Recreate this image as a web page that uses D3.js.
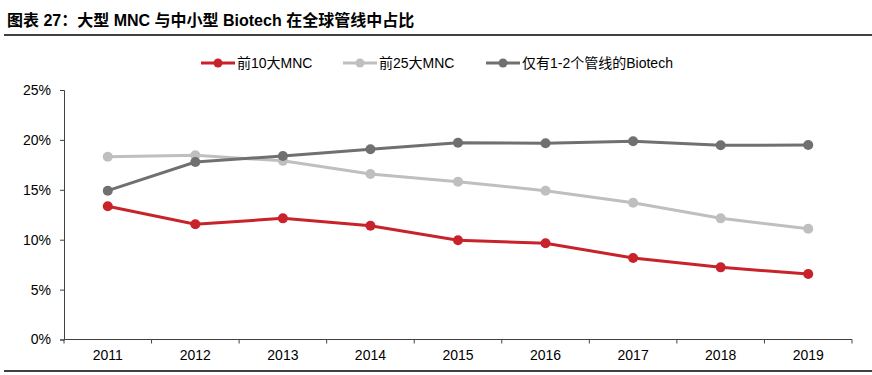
<!DOCTYPE html>
<html>
<head>
<meta charset="utf-8">
<script src="https://cdn.jsdelivr.net/npm/d3@7"></script>
<style>
  body { margin: 0; background: #fff; }
  svg { font-family: Arial, "Liberation Sans", "Noto Sans CJK SC", sans-serif; }
  .axis path, .axis line { stroke: #404040; }
  .axis text { font-size: 14px; fill: #000; }
</style>
</head>
<body>
<script>
// chart data
const years = ["2011", "2012", "2013", "2014", "2015", "2016", "2017", "2018", "2019"];
const top10 = [13.35, 11.54, 12.14, 11.4, 9.94, 9.64, 8.17, 7.23, 6.56];
const top25 = [18.32, 18.46, 17.9, 16.58, 15.81, 14.91, 13.71, 12.14, 11.1];
const biotech = [14.91, 17.79, 18.39, 19.06, 19.72, 19.66, 19.86, 19.46, 19.49];
const seriesNames = ["前10大MNC", "前25大MNC", "仅有1-2个管线的Biotech"];
const yTicks = [0, 5, 10, 15, 20, 25];

const width = 872, height = 375;
const colors = ["#c8232a", "#bfbfbf", "#707070"];
const series = [top10, top25, biotech];

const svg = d3.select("body").append("svg")
  .attr("width", width)
  .attr("height", height);

// title + rules
svg.append("text")
  .attr("x", 7).attr("y", 26)
  .attr("font-size", "16px").attr("font-weight", "bold")
  .text("图表 27：大型 MNC 与中小型 Biotech 在全球管线中占比");
svg.append("line").attr("x1", 4).attr("x2", width).attr("y1", 35).attr("y2", 35)
  .attr("stroke", "#000").attr("stroke-width", 1.5);
svg.append("line").attr("x1", 4).attr("x2", width).attr("y1", 371).attr("y2", 371)
  .attr("stroke", "#000").attr("stroke-width", 1.5);

const x = d3.scaleBand().domain(years).range([64, 852]);
const y = d3.scaleLinear().domain([0, 25]).range([339.5, 90]);

svg.append("g").attr("class", "axis")
  .attr("transform", "translate(64,0)")
  .call(d3.axisLeft(y).tickValues(yTicks).tickSize(4).tickFormat(d => d + "%"))
  .call(g => g.selectAll("text").attr("dx", "-6"));

const xAxis = svg.append("g").attr("class", "axis")
  .attr("transform", "translate(0,339.5)")
  .call(d3.axisBottom(x).tickSize(0).tickPadding(11))
  .call(g => g.select(".domain").attr("d", "M64,0H852"));
// boundary ticks between categories
xAxis.selectAll(".sep")
  .data(years.map(v => x(v)).concat([x.range()[1]]))
  .join("line")
  .attr("x1", d => d).attr("x2", d => d)
  .attr("y1", 0).attr("y2", 4)
  .attr("stroke", "#404040");

const line = d3.line()
  .x((d, i) => x(years[i]) + x.bandwidth() / 2)
  .y(d => y(d));

series.forEach((s, k) => {
  svg.append("path")
    .attr("d", line(s))
    .attr("fill", "none")
    .attr("stroke", colors[k])
    .attr("stroke-width", 3);
  svg.selectAll(".pt" + k)
    .data(s)
    .join("circle")
    .attr("cx", (d, i) => x(years[i]) + x.bandwidth() / 2)
    .attr("cy", d => y(d))
    .attr("r", 5)
    .attr("fill", colors[k]);
});

// legend
const legX = [201, 343, 486];
seriesNames.forEach((name, k) => {
  const g = svg.append("g").attr("transform", `translate(${legX[k]},63)`);
  g.append("line").attr("x1", 0).attr("x2", 34).attr("stroke", colors[k]).attr("stroke-width", 3);
  g.append("circle").attr("cx", 17).attr("r", 4.5).attr("fill", colors[k]);
  g.append("text").attr("x", 36).attr("y", 5).attr("font-size", "14px").text(name);
});
</script>
</body>
</html>
